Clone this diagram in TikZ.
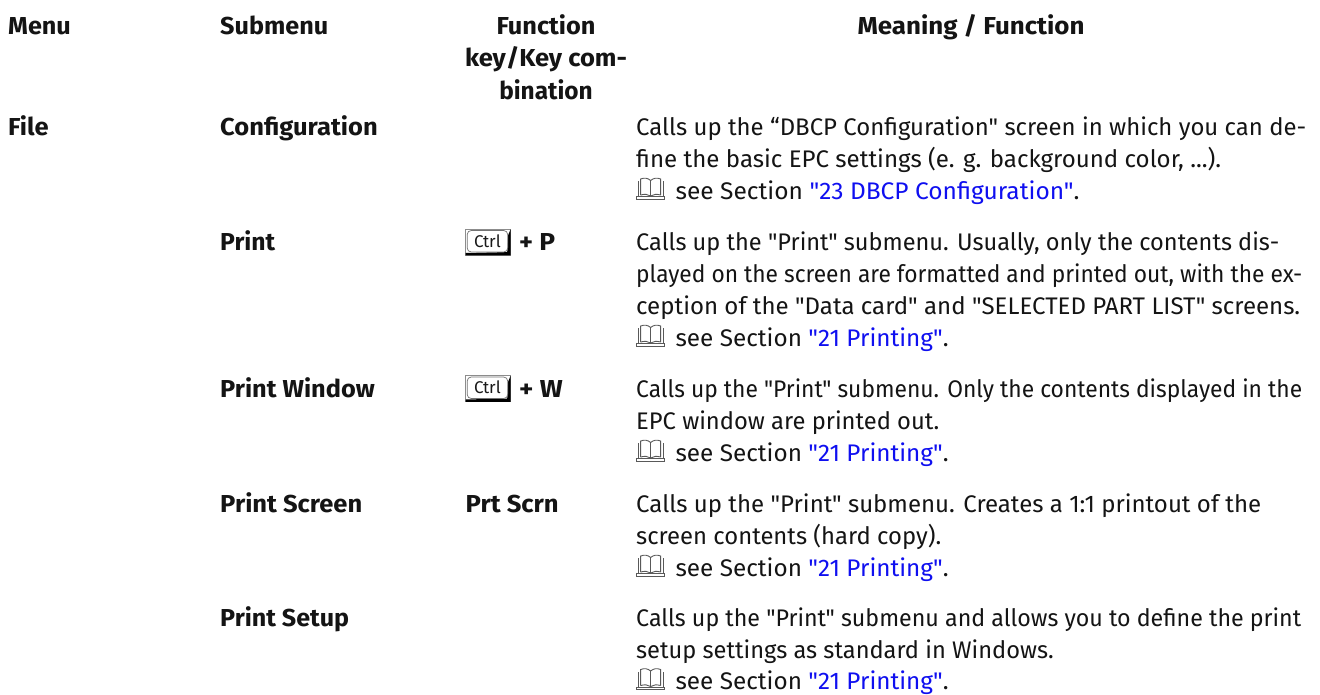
\documentclass[tikz,border=0pt]{standalone}
\usepackage{fontspec}
\newfontfamily\mf{Fira Sans}
\definecolor{linkc}{RGB}{15,15,240}
\definecolor{inkc}{RGB}{20,20,20}
\newcommand{\lnk}[1]{\textcolor{linkc}{#1}}
\newcommand{\fitw}[2]{\resizebox{#1pt}{\height}{#2}}
\newcommand{\bk}{\tikz[baseline=0pt,x=1pt,y=1pt,line width=.9pt,draw=black!65]{\draw (0,0) rectangle (28,2.5);\draw (1.5,2.5)--(1.5,18) (26.5,2.5)--(26.5,18);\draw (4,4) -- (4,20) .. controls (8,21.5) and (11,21) .. (14,18.5) .. controls (17,21) and (20,21.5) .. (24,20) -- (24,4);\draw (14,2.5)--(14,18.5);\draw (4,4) .. controls (8,5) and (11,5) .. (14,3) .. controls (17,5) and (20,5) .. (24,4);}\hspace{10.5pt}}
\tikzset{
 txt/.style={anchor=base west,inner sep=0pt,yshift=-1pt,text=inkc,font=\mf\fontsize{24}{28}\selectfont},
 hd/.style={txt,font=\mf\fontsize{24.5}{28}\selectfont\bfseries},
 hdc/.style={hd,anchor=base},
 keylabel/.style={inner sep=0pt,text=black!90,font=\mf\fontsize{17}{17}\selectfont},
 pics/keycap/.style={code={
  \draw[black!45,line width=.8pt] (-22.5,-13) rectangle (22.5,13);
  \fill[black] (22.5,-13) -- (22.5,13.3) -- (-22.5,13.3) -- (-22.5,11) -- (19,10) -- (20,-7) -- cycle;
  \draw[fill=white,draw=black!55,line width=.7pt,rounded corners=4pt] (-21,-11.5) rectangle (19.5,10);
  \node[keylabel] (-label) at (-0.8,-.8) {Ctrl};
 }}
}
\begin{document}
\begin{tikzpicture}[x=1pt,y=-1pt]
\useasboundingbox (0,0) rectangle (1320,694);
\fill[white] (0,0) rectangle (1320,694);
\node[hd] (h1) at (8,33.5) {\fitw{62.7}{Menu}};
\node[hd] (h2) at (220,33.5) {\fitw{108}{Submenu}};
\node[hdc] (h3a) at (546,33.5) {\fitw{99}{Function}};
\node[hdc] (h3b) at (546,65.5) {\fitw{162}{key/Key com-}};
\node[hdc] (h3c) at (546,98) {\fitw{93.5}{bination}};
\node[hdc] (h4) at (971,33.5) {\fitw{227}{Meaning / Function}};
\node[hd] (f) at (8,134) {\fitw{40.4}{File}};
\node[hd] (s1) at (220,134) {\fitw{157.5}{Configuration}};
\node[txt] (t1a) at (636,134) {\fitw{670}{Calls up the “DBCP Configuration" screen in which you can de-}};
\node[txt] (t1b) at (636,166) {\fitw{585}{fine the basic EPC settings (e. g. background color, ...).}};
\node[txt] (t1c) at (636,198) {\bk\fitw{404}{see Section \lnk{"23 DBCP Configuration"}.}};
\node[hd] (s2) at (220,249.5) {\fitw{55}{Print}};
\node[txt] (t2a) at (636,249.5) {\fitw{643}{Calls up the "Print" submenu. Usually, only the contents dis-}};
\node[txt] (t2b) at (636,281.5) {\fitw{666}{played on the screen are formatted and printed out, with the ex-}};
\node[txt] (t2c) at (636,313) {\fitw{664}{ception of the "Data card" and "SELECTED PART LIST" screens.}};
\node[txt] (t2d) at (636,345) {\bk\fitw{273}{see Section \lnk{"21 Printing"}.}};
\node[hd] (s3) at (220,396.5) {\fitw{154.6}{Print Window}};
\node[txt] (t3a) at (636,396.5) {\fitw{666}{Calls up the "Print" submenu. Only the contents displayed in the}};
\node[txt] (t3b) at (636,428.5) {\fitw{303}{EPC window are printed out.}};
\node[txt] (t3c) at (636,460) {\bk\fitw{273}{see Section \lnk{"21 Printing"}.}};
\node[hd] (s4) at (220,511.5) {\fitw{142}{Print Screen}};
\node[hd] (k4) at (465.5,511.5) {\fitw{93}{Prt Scrn}};
\node[txt] (t4a) at (636,511.5) {\fitw{625}{Calls up the "Print" submenu. Creates a 1:1 printout of the}};
\node[txt] (t4b) at (636,543.5) {\fitw{305}{screen contents (hard copy).}};
\node[txt] (t4c) at (636,575) {\bk\fitw{273}{see Section \lnk{"21 Printing"}.}};
\node[hd] (s5) at (220,625.5) {\fitw{129}{Print Setup}};
\node[txt] (t5a) at (636,625.5) {\fitw{665}{Calls up the "Print" submenu and allows you to define the print}};
\node[txt] (t5b) at (636,657) {\fitw{417.5}{setup settings as standard in Windows.}};
\node[txt] (t5c) at (636,688.5) {\bk\fitw{273}{see Section \lnk{"21 Printing"}.}};
\pic (c1) at (488.2,242) {keycap};
\node[hd] (k2) at (519,249.5) {\fitw{36}{+ P}};
\pic (c2) at (488.2,388.5) {keycap};
\node[hd] (k3) at (519,396.5) {\fitw{43.7}{+ W}};
\end{tikzpicture}
\end{document}
